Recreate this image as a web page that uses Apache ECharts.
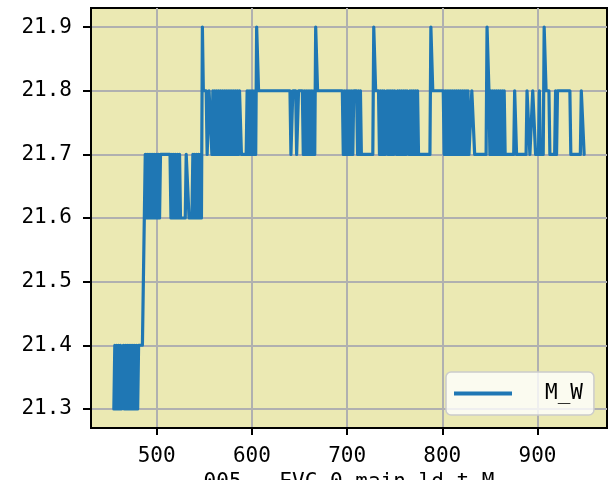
<!DOCTYPE html>
<html>
<head>
<meta charset="utf-8">
<script src="https://cdn.jsdelivr.net/npm/echarts@6/dist/echarts.min.js"></script>
<style>
html,body{margin:0;padding:0;background:#fff;}
#chart{width:608px;height:480px;}
</style>
</head>
<body>
<div id="chart"></div>
<script>
// ---- data ----
const seriesName = 'M_W';
const xAxisTitle = '005___EVC_0_main_ld_t_M';
const xTicks = [500, 600, 700, 800, 900];
const yTicks = [21.3, 21.4, 21.5, 21.6, 21.7, 21.8, 21.9];
const xRange = [431, 973];
const yRange = [21.27, 21.93];

// [x, M_W] samples
const mwPoints = [
  [455,21.3],[456,21.4],[457,21.3],[458,21.4],[459,21.3],[460,21.4],[461,21.3],[462,21.4],[463,21.3],[464,21.3],
  [465,21.4],[466,21.3],[467,21.4],[468,21.3],[469,21.4],[470,21.3],[471,21.4],[472,21.3],[473,21.4],[474,21.3],
  [475,21.4],[476,21.3],[477,21.4],[478,21.3],[479,21.4],[480,21.3],[481,21.4],[485,21.4],[487,21.6],
  [488,21.7],[489,21.6],[490,21.7],[491,21.6],[492,21.7],[493,21.6],[494,21.7],[495,21.6],[496,21.7],[497,21.6],
  [498,21.7],[499,21.6],[500,21.7],[501,21.6],[502,21.7],[503,21.6],[504,21.7],[514,21.7],[515,21.6],[516,21.7],
  [517,21.6],[518,21.7],[519,21.6],[520,21.7],[521,21.6],[522,21.7],[523,21.6],[524,21.7],[525,21.6],[530,21.6],
  [531,21.7],[533,21.7],[534,21.6],[537,21.6],[538,21.7],[539,21.6],[540,21.7],[541,21.6],[542,21.7],[543,21.6],
  [544,21.7],[545,21.6],[546,21.7],[547,21.6],[548,21.9],[549,21.8],
  [552,21.8],[553,21.7],[554,21.7],[555,21.8],[557,21.8],[558,21.7],[559,21.8],[560,21.7],[561,21.8],[562,21.7],
  [563,21.8],[564,21.7],[565,21.8],[566,21.7],[567,21.8],[568,21.7],[569,21.8],[570,21.7],[571,21.8],[572,21.7],
  [573,21.8],[574,21.7],[575,21.8],[576,21.7],[577,21.8],[578,21.7],[579,21.8],[580,21.7],[581,21.8],[582,21.7],
  [583,21.8],[584,21.7],[585,21.8],[586,21.7],[587,21.8],[588,21.8],[589,21.7],[594,21.7],[595,21.8],[596,21.7],
  [597,21.8],[598,21.7],[599,21.8],[600,21.7],[601,21.8],[602,21.7],[603,21.8],[604,21.7],[605,21.9],[606,21.9],[607,21.8],
  [640,21.8],[641,21.7],[642,21.7],[643,21.8],[646,21.8],[647,21.7],[648,21.7],[649,21.8],[653,21.8],[654,21.7],
  [655,21.8],[656,21.7],[657,21.8],[658,21.7],[659,21.8],[660,21.7],[661,21.8],[662,21.7],[663,21.8],[664,21.7],
  [665,21.8],[666,21.7],[667,21.9],[668,21.9],[669,21.8],
  [695,21.8],[696,21.7],[697,21.8],[698,21.7],[699,21.8],[700,21.7],[701,21.8],[702,21.7],[703,21.8],[704,21.7],
  [705,21.8],[706,21.7],[707,21.8],[710,21.8],[711,21.7],[712,21.8],[713,21.7],[714,21.8],[715,21.7],[727,21.7],
  [728,21.9],[729,21.9],[730,21.8],
  [733,21.8],[734,21.7],[735,21.8],[736,21.7],[737,21.8],[738,21.7],[739,21.8],[740,21.7],[741,21.7],[742,21.8],
  [743,21.7],[744,21.8],[745,21.7],[746,21.8],[747,21.7],[748,21.8],[749,21.7],[750,21.8],[751,21.8],[752,21.7],
  [753,21.8],[754,21.7],[755,21.8],[756,21.7],[757,21.8],[758,21.7],[759,21.8],[760,21.7],[761,21.8],[762,21.7],
  [763,21.8],[764,21.8],[765,21.7],[766,21.8],[767,21.7],[768,21.8],[769,21.7],[770,21.8],[771,21.7],[772,21.8],
  [773,21.7],[774,21.8],[775,21.7],[787,21.7],[788,21.9],[789,21.9],[790,21.8],
  [801,21.8],[802,21.7],[803,21.8],[804,21.7],[805,21.8],[806,21.7],[807,21.8],[808,21.7],[809,21.8],[810,21.7],
  [811,21.8],[812,21.7],[813,21.8],[814,21.7],[815,21.8],[816,21.7],[817,21.8],[818,21.7],[819,21.8],[820,21.7],
  [821,21.8],[822,21.7],[823,21.8],[824,21.7],[825,21.8],[826,21.7],[827,21.8],[828,21.7],[830,21.7],[831,21.8],
  [833,21.8],[834,21.7],[846,21.7],[847,21.9],[848,21.9],[849,21.8],
  [850,21.7],[851,21.8],[852,21.7],[853,21.8],[854,21.7],[855,21.8],[856,21.7],[857,21.8],[858,21.7],[859,21.8],
  [860,21.7],[861,21.8],[862,21.7],[863,21.8],[864,21.7],[865,21.8],[866,21.7],[875,21.7],[876,21.8],[877,21.8],
  [878,21.7],[888,21.7],[889,21.8],[891,21.8],[892,21.7],[894,21.7],[895,21.8],[897,21.8],[898,21.7],[901,21.7],
  [902,21.8],[903,21.7],[906,21.7],[907,21.9],[908,21.9],[909,21.8],[912,21.8],[913,21.7],[918,21.7],[919,21.8],[920,21.7],
  [921,21.8],[934,21.8],[935,21.7],[945,21.7],[946,21.8],[948,21.8],[949,21.7]
];

// ---- chart ----
const FONT = 'DejaVu Sans Mono';
const chart = echarts.init(document.getElementById('chart'), null, {renderer: 'canvas'});
const option = {
  animation: false,
  backgroundColor: '#ffffff',
  grid: {
    left: 91, right: 1, top: 8, bottom: 52,
    outerBoundsMode: 'none',
    containLabel: false,
    show: true,
    backgroundColor: '#ebe9b3',
    borderColor: '#000000',
    borderWidth: 2
  },
  legend: {
    data: [seriesName],
    left: 446, top: 372,
    orient: 'vertical',
    icon: 'rect',
    itemWidth: 58, itemHeight: 4,
    itemGap: 0,
    padding: [11, 11, 11, 8],
    backgroundColor: 'rgba(255,255,255,0.8)',
    borderColor: '#cccccc',
    borderWidth: 1.5,
    borderRadius: 5,
    textStyle: {fontFamily: FONT, fontSize: 21, color: '#000', padding: [0, 0, 0, 28]}
  },
  xAxis: {
    type: 'value',
    min: xRange[0], max: xRange[1],
    name: xAxisTitle,
    nameLocation: 'middle',
    nameGap: 42,
    nameTextStyle: {fontFamily: FONT, fontSize: 21, color: '#000'},
    axisLine: {show: true, lineStyle: {color: '#000', width: 2}},
    axisTick: {show: true, length: 7, lineStyle: {color: '#000', width: 2}},
    axisLabel: {
      fontFamily: FONT, fontSize: 21, color: '#000', margin: 18,
      showMinLabel: false, showMaxLabel: false,
      formatter: v => (xTicks.indexOf(v) >= 0 ? String(v) : '')
    },
    splitLine: {show: true, showMinLine: false, showMaxLine: false, lineStyle: {color: '#b0b0b0', width: 2}}
  },
  yAxis: {
    type: 'value',
    min: yRange[0], max: yRange[1],
    axisLine: {show: true, lineStyle: {color: '#000', width: 2}},
    axisTick: {show: true, length: 8, lineStyle: {color: '#000', width: 2}},
    axisLabel: {
      fontFamily: FONT, fontSize: 21, color: '#000', margin: 19,
      showMinLabel: false, showMaxLabel: false,
      formatter: v => {
        const hit = yTicks.find(t => Math.abs(t - v) < 1e-6);
        return hit !== undefined ? hit.toFixed(1) : '';
      }
    },
    splitLine: {show: true, showMinLine: false, showMaxLine: false, lineStyle: {color: '#b0b0b0', width: 2}}
  },
  series: [{
    name: seriesName,
    type: 'line',
    data: mwPoints,
    showSymbol: false,
    symbol: 'none',
    lineStyle: {color: '#1f77b4', width: 3.2, join: 'round', cap: 'round'},
    itemStyle: {color: '#1f77b4'}
  }]
};
chart.setOption(option);
</script>
</body>
</html>
